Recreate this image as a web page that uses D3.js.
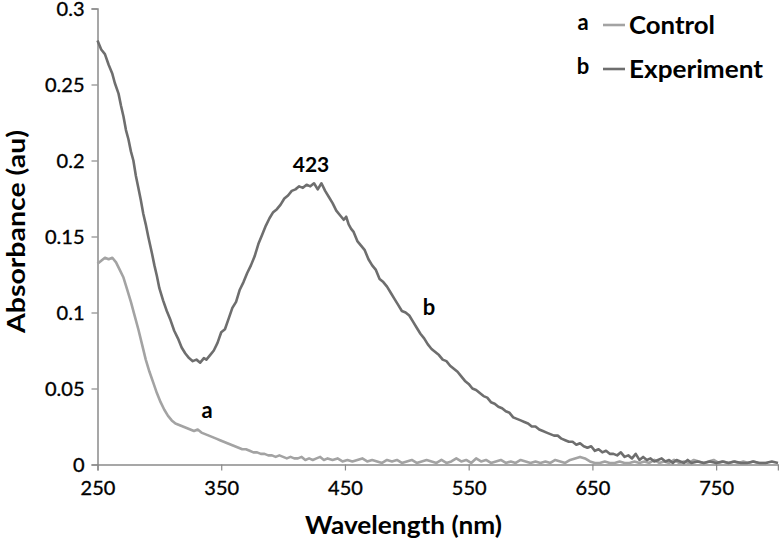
<!DOCTYPE html>
<html>
<head>
<meta charset="utf-8">
<script src="https://cdn.jsdelivr.net/npm/d3@7"></script>
<style>
  html, body { margin: 0; padding: 0; background: #fff; }
  svg { display: block; }
  text { font-family: Lato, "Open Sans", sans-serif; fill: #000; }
</style>
</head>
<body>
<svg id="chart" width="779" height="541"></svg>
<script>
// ---------- data ----------
const xTicks = [250, 350, 450, 550, 650, 750];
const yTicks = [0, 0.05, 0.1, 0.15, 0.2, 0.25, 0.3];
const yTickLabels = ["0", "0.05", "0.1", "0.15", "0.2", "0.25", "0.3"];
const seriesNames = ["Control", "Experiment"];
const seriesKeys = ["a", "b"];

const expWavelength = [250,253,256,259,262,264,267,269,271,273,275,277,279,281,283,285,287,289,291,294,296,298,300,303,306,309,312,315,318,321,324,327,330,333,336,338,341,344,347,350,353,356,359,362,365,368,371,374,377,380,383,386,389,392,395,398,401,404,407,410,413,416,419,422,425,428,431,434,437,440,443,446,449,451,453,455,457,460,463,466,469,472,475,478,481,484,487,490,493,496,499,502,505,508,511,514,517,520,523,526,529,532,535,538,541,544,547,550,553,556,559,562,565,568,571,574,577,580,583,586,589,592,595,598,601,604,607,610,613,616,619,622,625,628,631,634,637,640,643,646,649,652,655,658,661,664,667,670,673,676,679,682,685,688,691,694,697,700,703,706,709,712,715,718,721,724,727,730,735,740,745,750,755,760,765,770,775,780,785,790,795,800];
const expAbs = [0.279,0.273,0.270,0.263,0.257,0.251,0.244,0.236,0.229,0.220,0.214,0.206,0.200,0.190,0.182,0.174,0.165,0.158,0.150,0.139,0.131,0.124,0.116,0.108,0.101,0.095,0.088,0.083,0.077,0.073,0.070,0.068,0.069,0.067,0.070,0.069,0.072,0.075,0.080,0.087,0.089,0.096,0.103,0.107,0.115,0.120,0.126,0.131,0.137,0.145,0.151,0.157,0.162,0.166,0.168,0.171,0.175,0.177,0.180,0.181,0.183,0.182,0.184,0.183,0.185,0.181,0.185,0.180,0.176,0.172,0.167,0.164,0.161,0.163,0.158,0.155,0.153,0.147,0.144,0.141,0.135,0.131,0.128,0.122,0.120,0.117,0.113,0.109,0.105,0.101,0.100,0.098,0.094,0.090,0.086,0.083,0.079,0.076,0.074,0.072,0.069,0.068,0.065,0.063,0.061,0.058,0.055,0.053,0.050,0.049,0.047,0.045,0.044,0.041,0.040,0.038,0.037,0.035,0.034,0.031,0.030,0.029,0.028,0.027,0.025,0.025,0.023,0.022,0.021,0.020,0.019,0.019,0.017,0.016,0.015,0.015,0.013,0.014,0.012,0.011,0.012,0.009,0.010,0.008,0.009,0.007,0.007,0.006,0.008,0.005,0.006,0.004,0.007,0.003,0.005,0.003,0.004,0.002,0.003,0.004,0.002,0.003,0.001,0.003,0.002,0.001,0.003,0.001,0.002,0.001,0.002,0.001,0.002,0.001,0.002,0.001,0.001,0.002,0.001,0.001,0.002,0.001];

const ctrlWavelength = [250,253,256,259,262,265,268,271,274,277,280,283,286,289,292,295,298,301,304,307,310,313,316,319,322,325,328,331,334,337,340,343,346,349,352,355,358,361,364,367,370,373,376,379,382,385,388,391,394,397,400,403,406,409,412,415,418,421,424,427,430,433,436,440,444,448,452,456,460,464,468,472,476,480,484,488,492,496,500,504,508,512,516,520,524,528,532,536,540,544,548,552,556,560,564,568,572,576,580,584,588,592,596,600,604,608,612,616,620,624,628,632,636,640,644,648,652,656,660,664,668,672,676,680,684,688,692,696,700,704,708,712,716,720,724,728,732,736,740,744,748,752,756,760,764,768,772,776,780,784,788,792,796,800];
const ctrlAbs = [0.132,0.134,0.136,0.135,0.136,0.133,0.128,0.123,0.115,0.107,0.098,0.089,0.079,0.069,0.061,0.054,0.047,0.041,0.036,0.032,0.029,0.027,0.026,0.025,0.024,0.023,0.022,0.023,0.021,0.020,0.019,0.018,0.017,0.016,0.015,0.014,0.013,0.012,0.011,0.010,0.010,0.009,0.008,0.008,0.007,0.007,0.006,0.006,0.005,0.006,0.005,0.004,0.005,0.004,0.004,0.005,0.003,0.004,0.003,0.004,0.005,0.003,0.004,0.003,0.004,0.002,0.003,0.002,0.003,0.004,0.002,0.003,0.002,0.001,0.003,0.002,0.003,0.001,0.002,0.003,0.001,0.002,0.003,0.002,0.001,0.003,0.001,0.002,0.004,0.002,0.003,0.001,0.004,0.002,0.003,0.001,0.002,0.003,0.001,0.002,0.001,0.003,0.002,0.001,0.002,0.001,0.002,0.001,0.003,0.002,0.001,0.003,0.004,0.005,0.004,0.002,0.001,0.001,0.002,0.001,0.001,0.002,0.001,0.001,0.002,0.001,0.002,0.001,0.003,0.001,0.002,0.001,0.003,0.001,0.002,0.001,0.003,0.002,0.001,0.002,0.003,0.001,0.002,0.001,0.002,0.001,0.002,0.001,0.002,0.001,0.001,0.001];

// ---------- chart ----------
const svg = d3.select("#chart");
const x = d3.scaleLinear().domain([250, 800]).range([97.5, 778]);
const y = d3.scaleLinear().domain([0, 0.3]).range([464.5, 8.5]);
const axisColor = "#8a8a8a";

const line = d3.line().x(d => x(d[0])).y(d => y(d[1]));
const ctrl = ctrlWavelength.map((w, i) => [w, ctrlAbs[i]]);
const exp = expWavelength.map((w, i) => [w, expAbs[i]]);

// x axis
const gx = svg.append("g").attr("transform", `translate(0,${y(0)})`)
  .call(d3.axisBottom(x).tickValues(xTicks).tickSize(6).tickFormat(d3.format("d")));
gx.select(".domain").attr("stroke", axisColor).attr("stroke-width", 1.5);
gx.selectAll(".tick line").attr("stroke", axisColor).attr("stroke-width", 1.2);
gx.selectAll(".tick text").attr("dy", null).attr("y", 30)
  .style("font-family", "Lato, sans-serif").style("font-size", "20px")
  .attr("fill", "#000").attr("stroke", "#000").attr("stroke-width", 0.35);

// y axis
const gy = svg.append("g").attr("transform", `translate(${x(250)},0)`)
  .call(d3.axisLeft(y).tickValues(yTicks).tickSize(6).tickFormat((d, i) => yTickLabels[i]));
gy.select(".domain").attr("stroke", axisColor).attr("stroke-width", 1.5);
gy.selectAll(".tick line").attr("stroke", axisColor).attr("stroke-width", 1.2);
gy.selectAll(".tick text").attr("x", -13).attr("dy", "0.33em")
  .style("font-family", "Lato, sans-serif").style("font-size", "20px")
  .attr("fill", "#000").attr("stroke", "#000").attr("stroke-width", 0.35);

// lines
svg.append("path").datum(ctrl).attr("d", line)
  .attr("fill", "none").attr("stroke", "#a3a3a3").attr("stroke-width", 2.6).attr("stroke-linejoin", "round");
svg.append("path").datum(exp).attr("d", line)
  .attr("fill", "none").attr("stroke", "#6e6e6e").attr("stroke-width", 2.6).attr("stroke-linejoin", "round");

// axis titles
svg.append("text").attr("x", 305).attr("y", 534)
  .attr("textLength", 197).attr("lengthAdjust", "spacingAndGlyphs")
  .style("font-size", "24px").style("font-weight", "bold").text("Wavelength (nm)");
svg.append("text").attr("transform", "translate(25,333) rotate(-90)")
  .attr("textLength", 203).attr("lengthAdjust", "spacingAndGlyphs")
  .style("font-size", "24px").style("font-weight", "bold").text("Absorbance (au)");

// annotations
svg.append("text").attr("x", 311).attr("y", 172).attr("text-anchor", "middle")
  .style("font-size", "21px").style("font-weight", "bold").text("423");
svg.append("text").attr("x", 207).attr("y", 418).attr("text-anchor", "middle")
  .style("font-size", "22px").style("font-weight", "bold").text(seriesKeys[0]);
svg.append("text").attr("x", 429).attr("y", 315).attr("text-anchor", "middle")
  .style("font-size", "22px").style("font-weight", "bold").text(seriesKeys[1]);

// legend
const legendColors = ["#a3a3a3", "#6e6e6e"];
const legendY = [25, 69];
const legendWidths = [86, 134];
seriesNames.forEach((name, i) => {
  const g = svg.append("g");
  g.append("text").attr("x", 583).attr("y", legendY[i] + 5).attr("text-anchor", "middle")
    .style("font-size", "22px").style("font-weight", "bold").text(seriesKeys[i]);
  g.append("line").attr("x1", 603).attr("x2", 625).attr("y1", legendY[i]).attr("y2", legendY[i])
    .attr("stroke", legendColors[i]).attr("stroke-width", 2.6);
  g.append("text").attr("x", 629).attr("y", legendY[i] + 9)
    .attr("textLength", legendWidths[i]).attr("lengthAdjust", "spacingAndGlyphs")
    .style("font-size", "24px").style("font-weight", "bold").text(name);
});
</script>
</body>
</html>
